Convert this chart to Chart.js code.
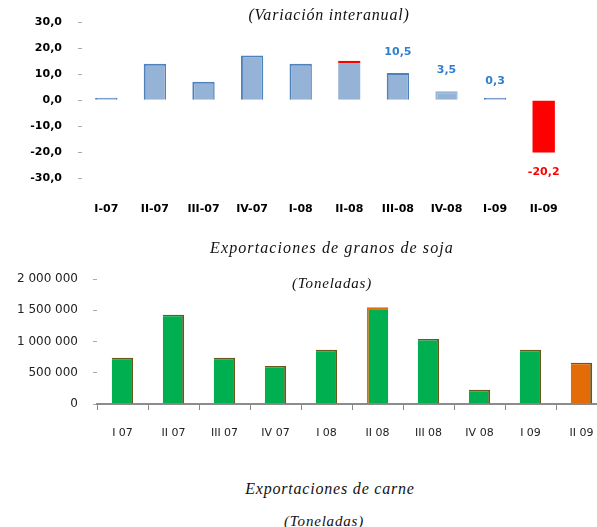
<!DOCTYPE html>
<html>
<head>
<meta charset="utf-8">
<script src="https://cdn.jsdelivr.net/npm/chart.js@4.4.1/dist/chart.umd.min.js"></script>
<style>
  html, body { margin: 0; padding: 0; background: #fff; width: 597px; height: 527px; overflow: hidden; }
  .box { position: absolute; left: 0; overflow: hidden; }
  .ttl { position: absolute; transform: translateX(-50%); white-space: nowrap;
         font-family: "Liberation Serif", serif; font-style: italic; font-size: 16px;
         line-height: 18px; color: #111; letter-spacing: 0.8px; }
  .ttl.sub { font-size: 15px; }
</style>
</head>
<body>
<div class="box" style="top:0;width:597px;height:225px"><canvas id="variacion" width="597" height="225" style="width:597px;height:225px"></canvas></div>
<div class="box" style="top:230px;width:597px;height:220px"><canvas id="soja" width="620" height="220" style="width:620px;height:220px"></canvas></div>

<div class="ttl" style="left:329px;top:6px">(Variación interanual)</div>
<div class="ttl" style="left:332px;top:239px;letter-spacing:1.1px">Exportaciones de granos de soja</div>
<div class="ttl sub" style="left:332px;top:274px">(Toneladas)</div>
<div class="ttl" style="left:330px;top:480px">Exportaciones de carne</div>
<div class="ttl sub" style="left:324px;top:512px">(Toneladas)</div>

<script>
// Quarters shown on both charts
const quartersDash = ['I-07', 'II-07', 'III-07', 'IV-07', 'I-08', 'II-08', 'III-08', 'IV-08', 'I-09', 'II-09'];
const quartersSpace = ['I 07', 'II 07', 'III 07', 'IV 07', 'I 08', 'II 08', 'III 08', 'IV 08', 'I 09', 'II 09'];

// Year-on-year change (%)
const variacion = [0.8, 14.1, 7.2, 17.3, 14.1, 15.3, 10.5, 3.5, 0.3, -20.2];
// Quarters whose value is printed above/below the bar
const labelledQuarters = ['III-08', 'IV-08', 'I-09', 'II-09'];
const variacionTicks = [-30, -20, -10, 0, 10, 20, 30];

// Soybean exports (tonnes)
const sojaToneladas = [740000, 1430000, 740000, 610000, 870000, 1550000, 1040000, 230000, 870000, 660000];
const sojaTicks = [0, 500000, 1000000, 1500000, 2000000];

const fmtDec = v => v.toFixed(1).replace('.', ',');
const fmtThousands = v => String(v).replace(/\B(?=(\d{3})+(?!\d))/g, ' ');

// ---------- Chart 1: variation ----------
const blueFill = '#95b3d7', blueEdge = '#4f81bd', red = '#ff0000';
const varFill = variacion.map(v => v < 0 ? red : blueFill);
const varEdge = quartersDash.map((q, i) => {
  if (variacion[i] < 0 || q === 'II-08') return red;
  if (q === 'IV-08') return blueFill;
  return blueEdge;
});

const valueLabels = {
  id: 'valueLabels',
  afterDatasetsDraw(chart) {
    const ctx = chart.ctx;
    const meta = chart.getDatasetMeta(0);
    ctx.save();
    ctx.font = 'bold 11px "DejaVu Sans"';
    ctx.textAlign = 'center';
    ctx.textBaseline = 'middle';
    labelledQuarters.forEach(q => {
      const i = quartersDash.indexOf(q);
      const v = variacion[i];
      const bar = meta.data[i];
      ctx.fillStyle = v < 0 ? red : '#2f7fd0';
      const dy = v < 0 ? 20 : (v < 1 ? -17 : -21);
      ctx.fillText(fmtDec(v), bar.x, bar.y + dy);
    });
    ctx.restore();
  }
};

new Chart(document.getElementById('variacion'), {
  type: 'bar',
  data: {
    labels: quartersDash,
    datasets: [{
      data: variacion,
      backgroundColor: varFill,
      borderColor: varEdge,
      borderWidth: ctx => {
        if (variacion[ctx.dataIndex] < 0) return 0;
        if (quartersDash[ctx.dataIndex] === 'II-08') return { top: 2.5, left: 0, right: 0, bottom: 0 };
        return { top: 2, left: 2, right: 1.5, bottom: 0 };
      },
      borderSkipped: false,
      minBarLength: 2.5,
      barPercentage: 0.46,
      categoryPercentage: 1
    }]
  },
  options: {
    responsive: false,
    animation: false,
    layout: { padding: { top: 20, right: 29, left: 0, bottom: 0 } },
    plugins: { legend: { display: false }, tooltip: { enabled: false } },
    scales: {
      x: {
        grid: { display: false },
        border: { display: false },
        ticks: { padding: 17, color: '#000', maxRotation: 0, autoSkip: false,
                 font: { family: 'DejaVu Sans', size: 11, weight: 'bold' } },
        afterFit(s) { s.height = 47; }
      },
      y: {
        min: -30, max: 30,
        afterBuildTicks(s) { s.ticks = variacionTicks.map(v => ({ value: v })); },
        ticks: { padding: 16, color: '#000', callback: v => fmtDec(v),
                 font: { family: 'DejaVu Sans', size: 11, weight: 'bold' } },
        grid: { drawOnChartArea: false, drawTicks: true, tickLength: 4, color: '#aaa' },
        border: { display: false },
        afterFit(s) { s.width = 82; }
      }
    }
  },
  plugins: [valueLabels]
});

// ---------- Chart 2: soybean exports ----------
const green = '#00b050', orange = '#e36c09', olive = '#66591e';
const sojaFill = quartersSpace.map(q => q === 'II 09' ? orange : green);
const sojaEdge = quartersSpace.map(q => q === 'II 08' ? orange : olive);

new Chart(document.getElementById('soja'), {
  type: 'bar',
  data: {
    labels: quartersSpace,
    datasets: [{
      data: sojaToneladas,
      backgroundColor: sojaFill,
      borderColor: sojaEdge,
      borderWidth: ctx => quartersSpace[ctx.dataIndex] === 'II 08'
        ? { top: 2, left: 2, right: 0, bottom: 0 }
        : { top: 1.5, left: 0, right: 2, bottom: 0 },
      borderSkipped: false,
      barPercentage: 0.42,
      categoryPercentage: 1
    }]
  },
  options: {
    responsive: false,
    animation: false,
    layout: { padding: { top: 49, right: 13, left: 0, bottom: 0 } },
    plugins: { legend: { display: false }, tooltip: { enabled: false } },
    scales: {
      x: {
        grid: { display: true, drawOnChartArea: false, drawTicks: true, tickLength: 6, color: '#888', offset: true },
        border: { display: true, color: '#8c8c8c', width: 2 },
        ticks: { padding: 17, color: '#222', maxRotation: 0, autoSkip: false,
                 font: { family: 'DejaVu Sans', size: 11 } },
        afterFit(s) { s.height = 46; }
      },
      y: {
        min: 0, max: 2000000,
        afterBuildTicks(s) { s.ticks = sojaTicks.map(v => ({ value: v })); },
        ticks: { padding: 15, color: '#222', callback: v => fmtThousands(v),
                 font: { family: 'DejaVu Sans', size: 12 } },
        grid: { drawOnChartArea: false, drawTicks: true, tickLength: 4, color: '#aaa' },
        border: { display: false },
        afterFit(s) { s.width = 97; }
      }
    }
  }
});
</script>
</body>
</html>
